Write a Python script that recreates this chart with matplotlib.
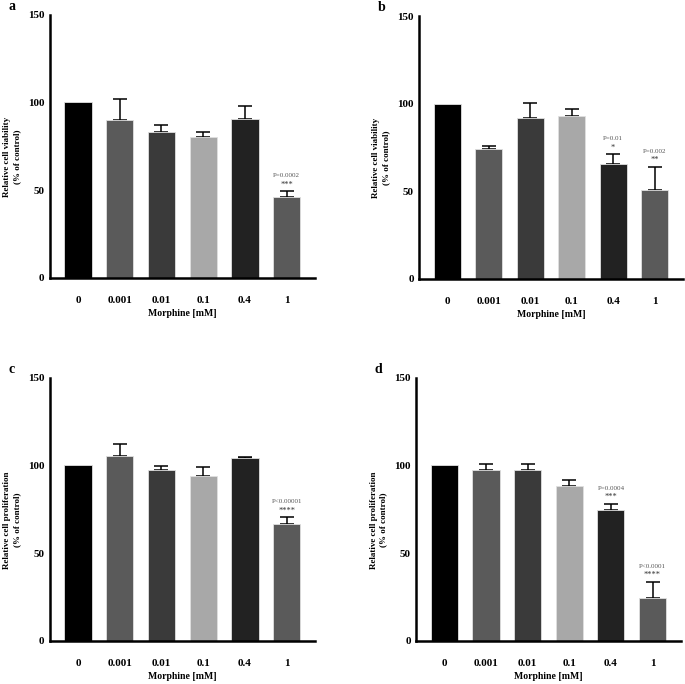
import matplotlib
matplotlib.use("Agg")
import matplotlib.pyplot as plt
import numpy as np

plt.rcParams['font.family'] = ['Liberation Serif', 'DejaVu Serif']

doses = ["0", "0.001", "0.01", "0.1", "0.4", "1"]
bar_colors = ["#000000", "#5a5a5a", "#3a3a3a", "#a8a8a8", "#222222", "#5a5a5a"]

# means and upper error (SD) for each panel
viab_a = [100, 90, 83, 80, 90.7, 46.3]
err_a = [0, 12, 4, 3, 7, 3]
viab_b = [100, 74, 92, 93, 65.7, 50.5]
err_b = [0, 2, 8.5, 4, 5.3, 13.3]
prol_c = [100, 105.4, 97.4, 93.8, 104.1, 66.8]
err_c = [0, 7, 2.1, 5.1, 0.6, 3.7]
prol_d = [100, 97.3, 97.3, 88.3, 74.6, 24.5]
err_d = [0, 3.7, 3.7, 3.6, 3.4, 9.1]

notes_a = {5: ("P=0.0002", "***")}
notes_b = {4: ("P=0.01", "*"), 5: ("P=0.002", "**")}
notes_c = {5: ("P<0.00001", "****")}
notes_d = {4: ("P=0.0004", "***"), 5: ("P<0.0001", "****")}

panels = [
    ("a", viab_a, err_a, notes_a, "Relative cell viability\n(% of control)", [0.073, 0.594, 0.387, 0.3845]),
    ("b", viab_b, err_b, notes_b, "Relative cell viability\n(% of control)", [0.612, 0.5925, 0.385, 0.384]),
    ("c", prol_c, err_c, notes_c, "Relative cell proliferation\n(% of control)", [0.073, 0.063, 0.387, 0.385]),
    ("d", prol_d, err_d, notes_d, "Relative cell proliferation\n(% of control)", [0.608, 0.063, 0.386, 0.385]),
]

fig = plt.figure(figsize=(6.85, 6.84), dpi=100)

for letter, vals, errs, notes, ylab, pos in panels:
    ax = fig.add_axes(pos)
    x = np.arange(len(doses))
    ax.bar(x, vals, width=0.65, color=bar_colors, edgecolor="#e0e0e0", linewidth=0.6, zorder=2)
    for i in range(len(doses)):
        if errs[i] > 0:
            ax.errorbar(x[i], vals[i], yerr=[[0], [errs[i]]], fmt="none",
                        ecolor="black", elinewidth=1.1, capsize=5, capthick=1.1, zorder=1)
    for i, (ptxt, stars) in notes.items():
        top = vals[i] + errs[i]
        ax.text(x[i], top + 1.5, stars, ha="center", va="bottom", fontsize=6, color="#333333")
        ax.text(x[i], top + 7.5, ptxt, ha="center", va="bottom", fontsize=5, color="#555555")

    ax.set_xlim(-0.67, 5.68)
    ax.set_ylim(0, 150)
    ax.set_yticks([0, 50, 100, 150])
    ax.set_xticks(x)
    ax.set_xticklabels(doses)
    ax.tick_params(axis="both", length=0, labelsize=8)
    ax.tick_params(axis="x", pad=13)
    ax.tick_params(axis="y", pad=4)
    for lbl in ax.get_xticklabels() + ax.get_yticklabels():
        lbl.set_fontweight("bold")
    for s in ["top", "right"]:
        ax.spines[s].set_visible(False)
    for s in ["left", "bottom"]:
        ax.spines[s].set_linewidth(1.8)

    ax.set_xlabel("Morphine [mM]", fontsize=7, fontweight="bold", labelpad=3)
    ax.set_ylabel(ylab, fontsize=6.5, fontweight="bold", linespacing=1.3)
    ax.yaxis.set_label_coords(-0.11, 0.46)

    fx = pos[0] - 0.061
    fy = pos[1] + pos[3] + 0.012
    fig.text(fx, fy, letter, fontsize=10, fontweight="bold", ha="left", va="center")

fig.savefig("out.png", dpi=100)
